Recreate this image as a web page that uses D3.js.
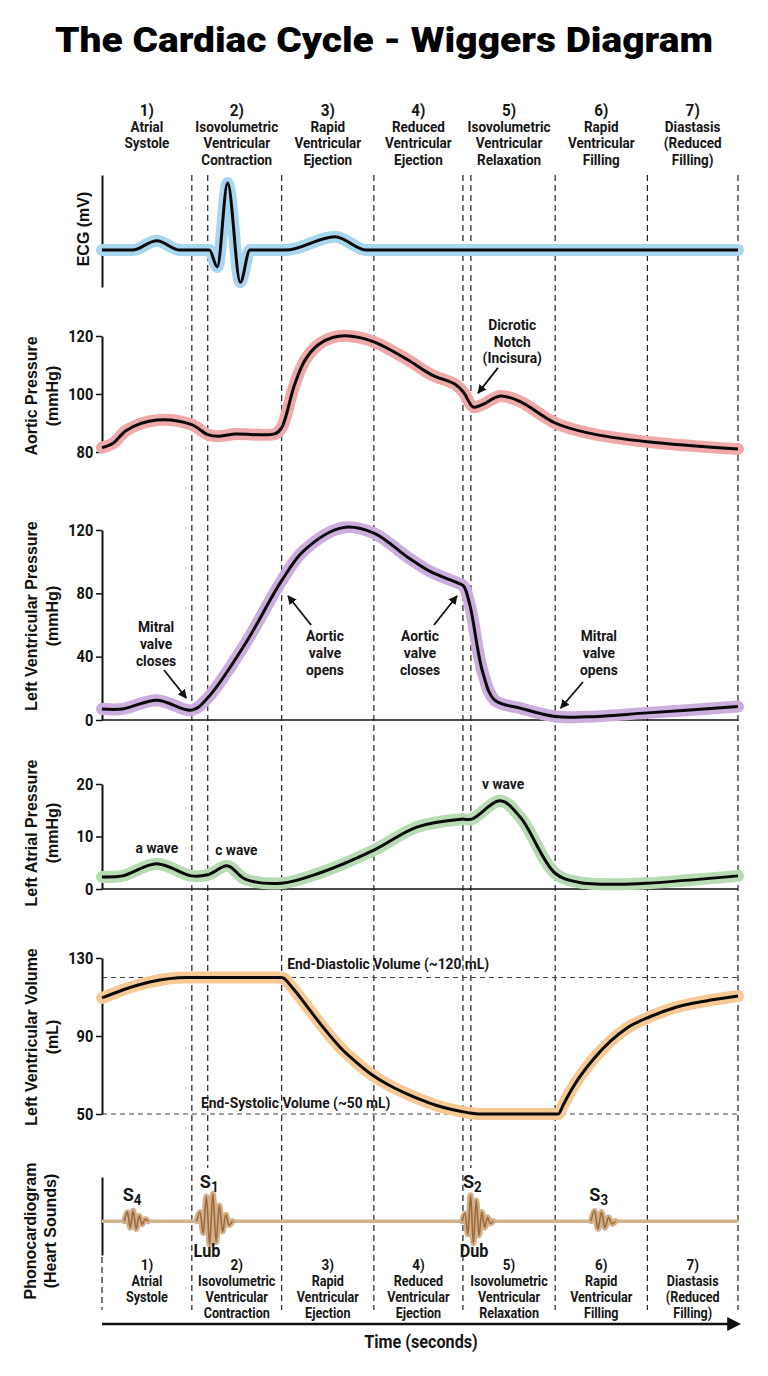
<!DOCTYPE html>
<html><head><meta charset="utf-8">
<script src="https://cdn.jsdelivr.net/npm/d3@7"></script>
<style>
html,body{margin:0;padding:0;background:#fff;}
svg{display:block;}
</style></head>
<body>
<svg id="chart" width="768" height="1376"></svg>
<script>
const COND = "Roboto,'Liberation Sans',sans-serif"
const WIDE = "'Liberation Sans',Arial,sans-serif"

// phases of the cycle (time in seconds)
const phaseNames = [
  ["1)", "Atrial", "Systole"],
  ["2)", "Isovolumetric", "Ventricular", "Contraction"],
  ["3)", "Rapid", "Ventricular", "Ejection"],
  ["4)", "Reduced", "Ventricular", "Ejection"],
  ["5)", "Isovolumetric", "Ventricular", "Relaxation"],
  ["6)", "Rapid", "Ventricular", "Filling"],
  ["7)", "Diastasis", "(Reduced", "Filling)"]
]
const phaseEdges = [0, 0.113, 0.226, 0.342, 0.454, 0.570, 0.686, 0.8]
const valveLines = [0.133, 0.464]

// traces: [time (s), value]
const ecg = [[0,0],[0.038,0],[0.069,0.14],[0.098,0],[0.135,0],[0.145,-0.25],[0.158,1.0],[0.174,-0.48],[0.186,0],
  [0.231,0],[0.293,0.2],[0.333,0],[0.8,0]]
const aortic = [[0,81.5],[0.014,83],[0.031,87.5],[0.069,91],[0.112,89.5],[0.133,86],[0.146,85.4],[0.167,86.2],
  [0.218,86.3],[0.226,88.4],[0.242,103],[0.255,111.5],[0.272,117],[0.29,119.5],[0.311,120],[0.342,118],
  [0.384,111.9],[0.414,106.7],[0.445,103.2],[0.455,100.5],[0.467,95.5],[0.479,96.4],[0.501,99.3],[0.526,97.4],
  [0.570,90],[0.611,86.6],[0.686,83.5],[0.8,81]]
const lvPressure = [[0,7],[0.026,7],[0.069,12.5],[0.113,6.3],[0.133,14],[0.18,48],[0.226,88],[0.254,107],
  [0.303,121.5],[0.342,118],[0.384,103],[0.414,93.5],[0.448,86.5],[0.455,84.5],[0.463,72],[0.479,30],
  [0.494,12.5],[0.526,7.5],[0.570,2.2],[0.61,2],[0.686,4.5],[0.8,8.5]]
const laPressure = [[0,2.3],[0.026,2.5],[0.069,4.8],[0.112,2.5],[0.133,2.7],[0.158,4.4],[0.18,1.9],[0.226,1.1],
  [0.273,3],[0.342,7.4],[0.396,11.8],[0.452,13.3],[0.465,13.3],[0.501,16.8],[0.526,13.7],[0.570,3],
  [0.599,1.3],[0.649,0.9],[0.686,1.1],[0.8,2.5]]
const lvVolume = [[0,109.5],[0.026,113.6],[0.060,117.7],[0.107,120],[0.226,120],[0.24,114.5],[0.26,104],
  [0.28,93.5],[0.30,84],[0.32,76.5],[0.34,70],[0.36,65],[0.38,61],[0.40,57.5],[0.42,54.5],[0.44,52.3],
  [0.46,50.7],[0.475,50],[0.574,50],[0.58,54.5],[0.59,62],[0.60,68.5],[0.62,79],[0.64,87.5],[0.66,94],
  [0.69,100],[0.72,104.5],[0.76,108],[0.8,110.5]]

// heart sounds: window (s) and oscillation peaks
const soundNames = ["S4", "S1", "S2", "S3"]
const soundWindows = [[0.028,0.058],[0.119,0.164],[0.453,0.492],[0.615,0.646]]
const s4Peaks = [0.35,-0.25,0.4,-0.3,0.2,-0.12,0.08]
const s1Peaks = [0.35,-0.45,0.95,-0.9,1.05,-0.8,0.6,-0.4,0.25,-0.15]
const s2Peaks = [0.3,-0.5,1.0,-0.85,0.8,-0.55,0.35,-0.25,0.15,-0.08]
const s3Peaks = [0.4,-0.3,0.35,-0.25,0.15,-0.1]

const svg = d3.select("#chart")
const x = d3.scaleLinear().domain([0, 0.8]).range([102, 738])

const yEcg = d3.scaleLinear().domain([-0.55, 1.12]).range([287, 175])
const yAo = d3.scaleLinear().domain([80, 120]).range([452, 336])
const yLv = d3.scaleLinear().domain([0, 120]).range([720, 530])
const yLa = d3.scaleLinear().domain([0, 20]).range([889, 784])
const yVol = d3.scaleLinear().domain([50, 130]).range([1114, 958])
const yPh = d3.scaleLinear().domain([-1.3, 1.7]).range([1255, 1177])

// condensed bold text block, centred on (cx, cy)
function label(lines, cx, cy, size, o = {}) {
  const g = svg.append("g").attr("transform", `translate(${cx},${cy}) scale(${o.sx || 0.9},1)`)
  const t = g.append("text").attr("text-anchor", o.anchor || "middle").attr("fill", "#161616")
    .attr("dominant-baseline", "central")
    .style("font-family", COND).style("font-weight", "bold").style("font-size", size + "px")
  lines.forEach((s, j) => {
    const ts = t.append("tspan").attr("x", 0).attr("y", j * (o.gap || 0)).text(s)
    if (j == 0 && o.first) ts.style("font-size", o.first + "px")
  })
  return t
}

// title
svg.append("text").attr("x", 384).attr("y", 52).attr("text-anchor", "middle")
  .style("font-family", COND).style("font-weight", "900").style("font-size", "35px").attr("fill", "#000")
  .attr("textLength", 658).attr("lengthAdjust", "spacingAndGlyphs")
  .text("The Cardiac Cycle - Wiggers Diagram")

phaseNames.forEach((lines, i) => {
  const cx = x((phaseEdges[i] + phaseEdges[i + 1]) / 2)
  label(lines, cx, 110, 15, {gap: 16.6, first: 17})
  label(lines, cx, 1265, 14, {gap: 15.8, first: 15})
})

// dashed phase lines
const dash = svg.append("g").attr("stroke", "#222").attr("stroke-width", 1.2).attr("stroke-dasharray", "6,4")
phaseEdges.slice(1).forEach(t => dash.append("line").attr("x1", x(t)).attr("x2", x(t)).attr("y1", 175).attr("y2", 1310))
valveLines.forEach(t => dash.append("line").attr("x1", x(t)).attr("x2", x(t)).attr("y1", 175).attr("y2", 1168))
dash.append("line").attr("x1", x(0)).attr("x2", x(0)).attr("y1", 1257).attr("y2", 1310)

// volume reference lines
;[120, 50].forEach(v => svg.append("line").attr("x1", x(0)).attr("x2", x(0.8)).attr("y1", yVol(v)).attr("y2", yVol(v))
  .attr("stroke", "#444").attr("stroke-width", 1.1).attr("stroke-dasharray", "5,4"))

// axes
function yAxis(scale, ticks) {
  const g = svg.append("g").attr("transform", "translate(102,0)")
    .call(d3.axisLeft(scale).tickValues(ticks).tickSize(6).tickSizeOuter(0))
  g.select(".domain").attr("stroke", "#111").attr("stroke-width", 2)
  g.selectAll(".tick line").attr("stroke", "#111").attr("stroke-width", 1.5)
  g.selectAll(".tick text").attr("fill", "#111").attr("x", -10).attr("transform", "scale(0.88,1)")
    .style("font-family", COND).style("font-size", "16.5px").style("font-weight", "bold")
}
yAxis(yEcg, [])
yAxis(yAo, [80, 100, 120])
yAxis(yLv, [0, 40, 80, 120])
yAxis(yLa, [0, 10, 20])
yAxis(yVol, [50, 90, 130])
yAxis(yPh, [])

;[yLv(0), yLa(0)].forEach(yy => svg.append("line").attr("x1", x(0)).attr("x2", x(0.8)).attr("y1", yy).attr("y2", yy)
  .attr("stroke", "#111").attr("stroke-width", 1.5))

function axisTitle(lines, cx, cy) {
  lines.forEach((s, i) => svg.append("text")
    .attr("transform", `translate(${cx[i]},${cy}) rotate(-90)`)
    .attr("text-anchor", "middle").attr("dominant-baseline", "central")
    .style("font-family", WIDE).style("font-weight", "bold").style("font-size", "16px").attr("fill", "#111")
    .text(s))
}
axisTitle(["ECG (mV)"], [83], 229)
axisTitle(["Aortic Pressure", "(mmHg)"], [31, 52], 396)
axisTitle(["Left Ventricular Pressure", "(mmHg)"], [31, 52], 616)
axisTitle(["Left Atrial Pressure", "(mmHg)"], [31, 52], 833)
axisTitle(["Left Ventricular Volume", "(mL)"], [31, 52], 1037)
axisTitle(["Phonocardiogram", "(Heart Sounds)"], [30, 50], 1231)

// traces
function trace(data, y, color, curve) {
  const line = d3.line().x(d => x(d[0])).y(d => y(d[1])).curve(curve)
  svg.append("path").attr("d", line(data)).attr("fill", "none").attr("stroke", color)
    .attr("stroke-width", 12).attr("stroke-linecap", "round").attr("stroke-linejoin", "round")
  svg.append("path").attr("d", line(data)).attr("fill", "none").attr("stroke", "#0a0a0a")
    .attr("stroke-width", 3).attr("stroke-linejoin", "round")
}
const smooth = d3.curveCatmullRom.alpha(0.5)
trace(ecg, yEcg, "#a9d6ef", d3.curveMonotoneX)
trace(aortic, yAo, "#efa9a9", smooth)
trace(lvPressure, yLv, "#cbaedd", smooth)
trace(laPressure, yLa, "#b7dcb4", smooth)
trace(lvVolume, yVol, "#f7c995", d3.curveMonotoneX)

// phonocardiogram
svg.append("line").attr("x1", x(0)).attr("x2", x(0.8)).attr("y1", yPh(0)).attr("y2", yPh(0))
  .attr("stroke", "#d4b48e").attr("stroke-width", 3.5)
const soundLine = d3.line().x(d => x(d[0])).y(d => yPh(d[1])).curve(d3.curveCatmullRom)
;[s4Peaks, s1Peaks, s2Peaks, s3Peaks].forEach((peaks, i) => {
  const [t0, t1] = soundWindows[i]
  const step = (t1 - t0) / (peaks.length + 1)
  const pts = [[t0, 0]].concat(peaks.map((p, k) => [t0 + step * (k + 1), p]), [[t1, 0]])
  svg.append("path").attr("d", soundLine(pts)).attr("fill", "none").attr("stroke", "#d3b08a")
    .attr("stroke-width", 6).attr("stroke-linejoin", "round").attr("stroke-linecap", "round")
  svg.append("path").attr("d", soundLine(pts)).attr("fill", "none").attr("stroke", "#9a6a3c")
    .attr("stroke-width", 1.6)
})
const soundLabelPos = [[0.026, 1.0], [0.123, 1.5], [0.454, 1.5], [0.613, 1.0]]
soundNames.forEach((s, i) => {
  const t = label([s[0]], x(soundLabelPos[i][0]), yPh(soundLabelPos[i][1]), 19, {anchor: "start", sx: 0.95})
  t.append("tspan").attr("dy", 5).style("font-size", "14px").text(s[1])
})
;[["Lub", 0.132], ["Dub", 0.468]].forEach(d => label([d[0]], x(d[1]), yPh(-1.15), 18))

// annotations
const defs = svg.append("defs")
defs.append("marker").attr("id", "ah").attr("viewBox", "0 0 10 10").attr("refX", 9).attr("refY", 5)
  .attr("markerWidth", 9).attr("markerHeight", 9).attr("markerUnits", "userSpaceOnUse").attr("orient", "auto")
  .append("path").attr("d", "M0,0 L10,5 L0,10 Z").attr("fill", "#111")

function arrow(t0, v0, t1, v1, y) {
  svg.append("line").attr("x1", x(t0)).attr("y1", y(v0)).attr("x2", x(t1)).attr("y2", y(v1))
    .attr("stroke", "#111").attr("stroke-width", 1.8).attr("marker-end", "url(#ah)")
}
label(["Dicrotic", "Notch", "(Incisura)"], x(0.516), yAo(123.8), 15, {gap: 16.5, sx: 0.92})
arrow(0.498, 109, 0.473, 100.3, yAo)

label(["Mitral", "valve", "closes"], x(0.068), yLv(58.7), 15, {gap: 16.7, sx: 0.92})
arrow(0.078, 31.6, 0.106, 13.9, yLv)
label(["Aortic", "valve", "opens"], x(0.2805), yLv(53), 15, {gap: 16.7, sx: 0.92})
arrow(0.263, 60, 0.234, 78.3, yLv)
label(["Aortic", "valve", "closes"], x(0.4), yLv(53), 15, {gap: 16.7, sx: 0.92})
arrow(0.4176, 60, 0.4465, 78.3, yLv)
label(["Mitral", "valve", "opens"], x(0.625), yLv(53), 15, {gap: 16.7, sx: 0.92})
arrow(0.605, 24, 0.577, 7.6, yLv)

label(["a wave"], x(0.069), yLa(7.8), 15, {sx: 0.92})
label(["c wave"], x(0.169), yLa(7.4), 15, {sx: 0.92})
label(["v wave"], x(0.5045), yLa(20), 15, {sx: 0.92})

label(["End-Diastolic Volume (~120 mL)"], x(0.233), yVol(126.9), 15, {anchor: "start", sx: 0.92})
label(["End-Systolic Volume (~50 mL)"], x(0.1245), yVol(55.6), 15, {anchor: "start", sx: 0.92})

// time axis
defs.append("marker").attr("id", "ta").attr("viewBox", "0 0 10 10").attr("refX", 2).attr("refY", 5)
  .attr("markerWidth", 14).attr("markerHeight", 14).attr("markerUnits", "userSpaceOnUse").attr("orient", "auto")
  .append("path").attr("d", "M0,0 L10,5 L0,10 Z").attr("fill", "#111")
svg.append("line").attr("x1", x(0)).attr("x2", x(0.8) - 8).attr("y1", 1324).attr("y2", 1324)
  .attr("stroke", "#111").attr("stroke-width", 2.5).attr("marker-end", "url(#ta)")
label(["Time (seconds)"], 421, 1342, 18)
</script>
</body></html>
